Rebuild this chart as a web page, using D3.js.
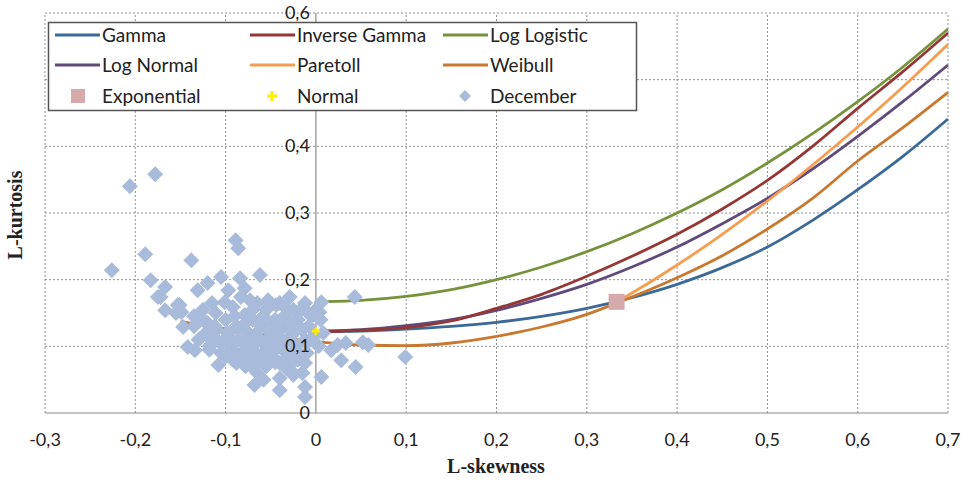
<!DOCTYPE html>
<html><head><meta charset="utf-8">
<script src="https://cdn.jsdelivr.net/npm/d3@7"></script>
<style>
html,body{margin:0;padding:0;background:#fff;}
svg{display:block;}
</style></head>
<body>
<svg id="chart" width="968" height="483"></svg>
<script>
// ---------- data ----------
const xTicks = [-0.3,-0.2,-0.1,0,0.1,0.2,0.3,0.4,0.5,0.6,0.7];
const yTicks = [0,0.1,0.2,0.3,0.4,0.5,0.6];
const yTickLabelsShown = [0,0.1,0.2,0.3,0.4,0.6]; // 0,5 is hidden behind the legend
const fmt = v => String(Math.round(v*10)/10).replace('.', ',');

const curveSkew   = [0.01,0.05,0.1,0.15,0.2,0.25,0.3,0.35,0.4,0.45,0.5,0.55,0.6,0.65,0.7];
const gammaKurt   = [0.122,0.123,0.126,0.130,0.136,0.145,0.157,0.173,0.193,0.218,0.249,0.289,0.335,0.385,0.441];
const invGammaKurt= [0.122,0.124,0.128,0.138,0.157,0.178,0.205,0.235,0.268,0.306,0.349,0.400,0.457,0.512,0.570];
const logLogKurt  = [0.167,0.169,0.175,0.185,0.200,0.219,0.242,0.269,0.300,0.335,0.375,0.419,0.467,0.519,0.576];
const logNormKurt = [0.123,0.125,0.131,0.140,0.154,0.172,0.193,0.219,0.249,0.284,0.322,0.366,0.415,0.467,0.522];
const paretoSkew  = [0.333,0.35,0.4,0.45,0.5,0.55,0.6,0.65,0.7];
const paretoKurt  = [0.167,0.180,0.222,0.268,0.318,0.372,0.429,0.489,0.553];
const weibullSkew = [-0.15,-0.12,-0.1,-0.05,0,0.05,0.1,0.15,0.2,0.25,0.3,0.333,0.4,0.45,0.5,0.55,0.6,0.65,0.7];
const weibullKurt = [0.137,0.131,0.126,0.115,0.107,0.102,0.101,0.105,0.115,0.129,0.148,0.165,0.203,0.236,0.276,0.322,0.378,0.428,0.481];
const expoPoint   = [0.333,0.1667];
const normalPoint = [0,0.1226];

const decSkew = [-0.206,-0.178,-0.226,-0.189,-0.183,-0.138,-0.089,-0.086,-0.062,-0.105,-0.084,-0.120,-0.131,-0.097,-0.167,-0.175,-0.167,-0.151,-0.155,-0.147,
 -0.142,-0.134,-0.108,-0.068,-0.040,-0.012,-0.012,0.006,-0.040,-0.028,-0.073,-0.029,0.006,0.043,0.024,0.033,0.052,0.058,0.028,0.044,
 0.099,0.017,-0.079,-0.053,-0.044,-0.033,-0.017,-0.009,0.004,-0.101,-0.092,-0.083,-0.111,-0.079,-0.062,
 -0.125,-0.100,-0.070,-0.045,-0.020,0.005,
 -0.135,-0.112,-0.088,-0.060,-0.035,-0.008,
 -0.122,-0.098,-0.075,-0.050,-0.025,0.008,
 -0.130,-0.110,-0.085,-0.062,-0.038,-0.012,
 -0.118,-0.095,-0.070,-0.048,-0.022,0.003,
 -0.105,-0.082,-0.058,-0.033,-0.010,
 -0.092,-0.068,-0.045,-0.020,
 -0.078,-0.055,-0.030,
 -0.065,-0.015,-0.058,-0.025,-0.033,-0.045,-0.073,-0.059,-0.149,-0.172,-0.153,
 -0.115,-0.065,-0.040,-0.012,
 -0.125,-0.070,-0.055,-0.025,0.000,
 -0.135,-0.090,-0.058,-0.035,-0.005,
 -0.120,-0.078,-0.048,-0.025,
 -0.110,-0.086,-0.062,-0.040,-0.015,
 -0.120,-0.097,-0.072,-0.050,-0.028,-0.002,
 -0.105,-0.080,-0.058,-0.035,-0.010,
 -0.118,-0.092,-0.070,-0.045,-0.022,
 -0.100,-0.078,-0.055,-0.030,
 -0.088,-0.065,-0.040,-0.012];
const decKurt = [0.340,0.358,0.214,0.238,0.199,0.229,0.259,0.247,0.207,0.204,0.202,0.195,0.184,0.184,0.189,0.174,0.154,0.162,0.150,0.129,
 0.099,0.094,0.072,0.042,0.034,0.039,0.024,0.054,0.052,0.064,0.169,0.174,0.166,0.174,0.102,0.105,0.106,0.102,0.079,0.069,
 0.084,0.094,0.187,0.169,0.162,0.157,0.154,0.151,0.151,0.166,0.159,0.174,0.150,0.147,0.140,
 0.140,0.140,0.140,0.140,0.140,0.140,
 0.130,0.130,0.130,0.130,0.130,0.130,
 0.120,0.120,0.120,0.120,0.120,0.120,
 0.110,0.110,0.110,0.110,0.110,0.110,
 0.100,0.100,0.100,0.100,0.100,0.100,
 0.090,0.090,0.090,0.090,0.090,
 0.080,0.080,0.080,0.080,
 0.070,0.070,0.070,
 0.060,0.060,0.050,0.057,0.067,0.076,0.072,0.079,0.151,0.174,0.162,
 0.165,0.165,0.165,0.165,
 0.155,0.155,0.155,0.155,0.155,
 0.145,0.145,0.145,0.145,0.145,
 0.135,0.135,0.135,0.135,
 0.125,0.125,0.125,0.125,0.125,
 0.115,0.115,0.115,0.115,0.115,0.115,
 0.105,0.105,0.105,0.105,0.105,
 0.095,0.095,0.095,0.095,0.095,
 0.085,0.085,0.085,0.085,
 0.075,0.075,0.075,0.075];

const seriesNames = ["Gamma","Inverse Gamma","Log Logistic","Log Normal","ParetoII","Weibull","Exponential","Normal","December"];
const legendLabels = ["Gamma","Inverse Gamma","Log Logistic","Log Normal","Paretoll","Weibull","Exponential","Normal","December"];
const colors = {
  "Gamma":"#3b6a98","Inverse Gamma":"#953735","Log Logistic":"#76933c","Log Normal":"#604a7b",
  "ParetoII":"#f59d4e","Weibull":"#c8782f","Exponential":"#d6a9aa","Normal":"#ffee00","December":"#a9bbdb"
};

// ---------- chart ----------
const svg = d3.select("#chart");
const x = d3.scaleLinear().domain([-0.3,0.7]).range([45,948]);
const y = d3.scaleLinear().domain([0,0.6]).range([413,13]);
const font = "Lato, 'Open Sans', sans-serif";

// grid
const grid = svg.append("g");
grid.selectAll("line.vx").data(xTicks.filter(d=>Math.abs(d)>1e-9)).enter().append("line")
  .attr("x1",d=>x(d)).attr("x2",d=>x(d)).attr("y1",y(0)).attr("y2",y(0.6))
  .attr("stroke","#8f8f8f").attr("stroke-width",1).attr("stroke-dasharray","2,2");
grid.selectAll("line.hy").data(yTicks.filter(d=>d>0)).enter().append("line")
  .attr("x1",x(-0.3)).attr("x2",x(0.7)).attr("y1",d=>y(d)).attr("y2",d=>y(d))
  .attr("stroke","#8f8f8f").attr("stroke-width",1).attr("stroke-dasharray","2,2");

// axes lines
svg.append("line").attr("x1",x(-0.3)).attr("x2",x(0.7)).attr("y1",y(0)).attr("y2",y(0))
  .attr("stroke","#8c8c8c").attr("stroke-width",1.2);
svg.append("line").attr("x1",x(0)).attr("x2",x(0)).attr("y1",y(0)).attr("y2",y(0.6))
  .attr("stroke","#8c8c8c").attr("stroke-width",1.2);

// x tick labels
svg.append("g").selectAll("text").data(xTicks).enter().append("text")
  .attr("x",d=>x(d)).attr("y",446).attr("text-anchor","middle")
  .attr("font-family",font).attr("font-size",18).attr("fill","#222")
  .text(d=>fmt(d));

// axis titles
svg.append("text").attr("x",496).attr("y",473).attr("text-anchor","middle")
  .attr("font-family","'Liberation Serif','DejaVu Serif',serif").attr("font-weight","bold")
  .attr("font-size",20).attr("fill","#222").text("L-skewness");
svg.append("text").attr("transform","translate(22,215) rotate(-90)").attr("text-anchor","middle")
  .attr("font-family","'Liberation Serif','DejaVu Serif',serif").attr("font-weight","bold")
  .attr("font-size",20).attr("fill","#222").text("L-kurtosis");

// curves
const line = d3.line().x(d=>x(d[0])).y(d=>y(d[1])).curve(d3.curveMonotoneX);
const curves = [
  ["Gamma", curveSkew, gammaKurt],
  ["Weibull", weibullSkew, weibullKurt],
  ["Log Normal", curveSkew, logNormKurt],
  ["ParetoII", paretoSkew, paretoKurt],
  ["Inverse Gamma", curveSkew, invGammaKurt],
  ["Log Logistic", curveSkew, logLogKurt]
];
curves.forEach(([name, xs, ys])=>{
  svg.append("path").datum(xs.map((v,i)=>[v,ys[i]]))
    .attr("d",line).attr("fill","none").attr("stroke",colors[name])
    .attr("stroke-width",2.8).attr("stroke-linejoin","round");
});

// December scatter
const diamond = r => `M0,${-r}L${r},0L0,${r}L${-r},0Z`;
svg.append("g").selectAll("path").data(decSkew.map((v,i)=>[v,decKurt[i]])).enter().append("path")
  .attr("transform",d=>`translate(${x(d[0])},${y(d[1])})`)
  .attr("d",diamond(8)).attr("fill",colors["December"]);

// exponential
svg.append("rect").attr("x",x(expoPoint[0])-8).attr("y",y(expoPoint[1])-8)
  .attr("width",16).attr("height",16).attr("fill",colors["Exponential"]);
// normal
const plus = s => `M${-s},0H${s}M0,${-s}V${s}`;
svg.append("path").attr("transform",`translate(${x(normalPoint[0])},${y(normalPoint[1])})`)
  .attr("d",plus(4)).attr("stroke",colors["Normal"]).attr("stroke-width",2.5).attr("fill","none");

// y tick labels drawn on top of the scatter (left of the vertical axis at 0)
svg.append("g").selectAll("text").data(yTickLabelsShown).enter().append("text")
  .attr("x",x(0)-6).attr("y",d=>y(d)+6).attr("text-anchor","end")
  .attr("font-family",font).attr("font-size",18).attr("fill","#222")
  .text(d=>fmt(d));

// legend
const lg = svg.append("g");
lg.append("rect").attr("x",48.5).attr("y",22.5).attr("width",588).attr("height",88)
  .attr("fill","#fff").attr("stroke","#555").attr("stroke-width",1.5);
const colX = [55,250,443];
const rowY = [35,65,96];
seriesNames.forEach((name,i)=>{
  const cx = colX[i%3], cy = rowY[Math.floor(i/3)];
  const g = lg.append("g");
  if (i<6) {
    g.append("line").attr("x1",cx).attr("x2",cx+45).attr("y1",cy).attr("y2",cy)
      .attr("stroke",colors[name]).attr("stroke-width",3);
  } else if (name==="Exponential") {
    g.append("rect").attr("x",cx+16).attr("y",cy-7).attr("width",14).attr("height",14).attr("fill",colors[name]);
  } else if (name==="Normal") {
    g.append("path").attr("transform",`translate(${cx+22},${cy})`).attr("d",plus(5))
      .attr("stroke",colors[name]).attr("stroke-width",3);
  } else {
    g.append("path").attr("transform",`translate(${cx+22},${cy})`).attr("d",diamond(6)).attr("fill",colors[name]);
  }
  g.append("text").attr("x",cx+47).attr("y",cy+6.5).attr("font-family",font).attr("font-size",19)
    .attr("fill","#222").text(legendLabels[i]);
});
</script>
</body></html>
